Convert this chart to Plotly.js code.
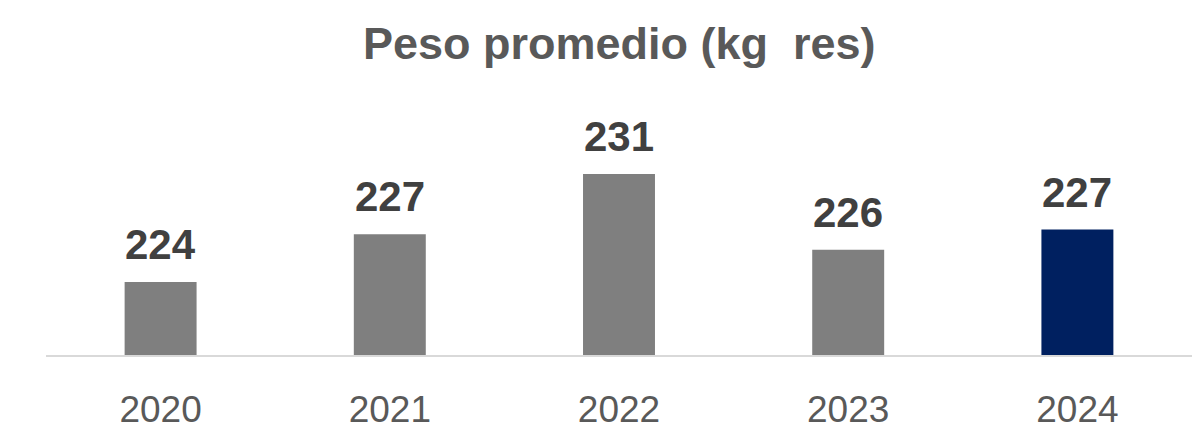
<!DOCTYPE html>
<html>
<head>
<meta charset="utf-8">
<script src="https://cdn.plot.ly/plotly-3.0.1.min.js"></script>
<style>
  html, body { margin: 0; padding: 0; background: #fff; }
  #grafico { width: 1200px; height: 433px; }
</style>
</head>
<body>
<div id="grafico"></div>
<script>
// Datos
const anios = ['2020', '2021', '2022', '2023', '2024'];
const pesos = [224.0, 227.1, 231.0, 226.1, 227.4];
const colores = ['#7f7f7f', '#7f7f7f', '#7f7f7f', '#7f7f7f', '#002060'];

const traza = {
    type: 'bar',
    x: anios,
    y: pesos,
    marker: { color: colores },
    hoverinfo: 'x+y'
};

// Etiquetas de datos encima de cada barra (x por índice de categoría)
const etiquetas = anios.map(function(a, i) {
    return {
        x: i,
        y: pesos[i],
        text: Math.round(pesos[i]).toString(),
        showarrow: false,
        yanchor: 'bottom',
        yshift: 12,
        font: { family: 'Liberation Sans, Arial, sans-serif', size: 42, color: '#404040', weight: 'bold' }
    };
});

const layout = {
    width: 1200,
    height: 433,
    margin: { l: 46, r: 8, t: 100, b: 78 },
    paper_bgcolor: '#ffffff',
    plot_bgcolor: '#ffffff',
    bargap: 0.686,
    showlegend: false,
    title: {
        text: '<b>Peso promedio (kg\u00a0 res)</b>',
        font: { family: 'Liberation Sans, Arial, sans-serif', size: 45, color: '#595959' },
        x: 0.516,
        xanchor: 'center',
        y: 0.9,
        yanchor: 'middle'
    },
    xaxis: {
        type: 'category',
        range: [-0.5, anios.length - 0.5],
        showline: true,
        linecolor: '#d9d9d9',
        linewidth: 2,
        showgrid: false,
        zeroline: false,
        ticks: '',
        ticklabelstandoff: 21,
        tickfont: { family: 'Liberation Sans, Arial, sans-serif', size: 37, color: '#595959' }
    },
    yaxis: {
        range: [219.27, 235.8],
        visible: false,
        showgrid: false,
        zeroline: false
    },
    annotations: etiquetas
};

Plotly.newPlot('grafico', [traza], layout, { displayModeBar: false, staticPlot: true });
</script>
</body>
</html>
